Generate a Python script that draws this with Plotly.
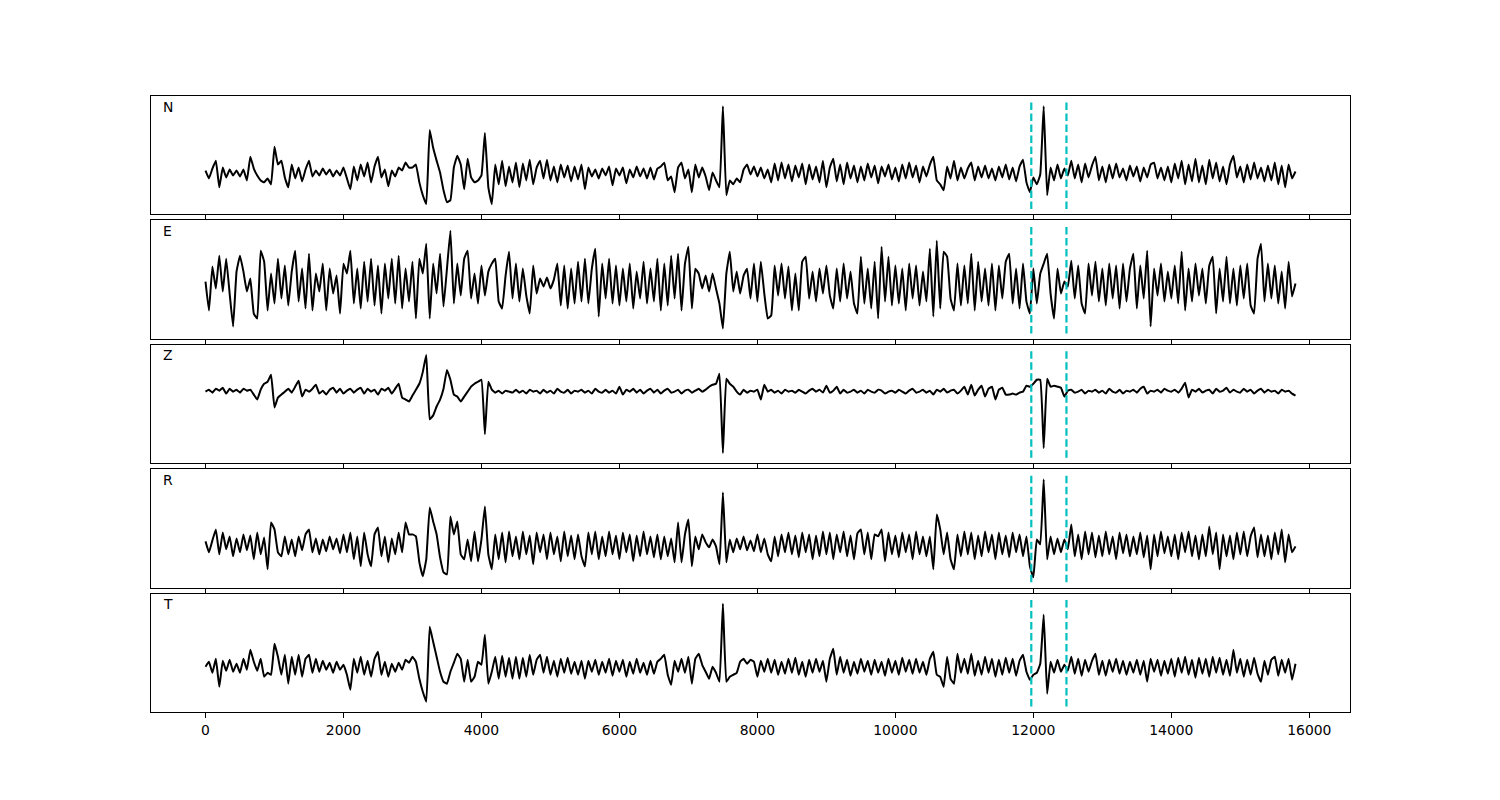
import numpy as np
import plotly.graph_objects as go
from plotly.subplots import make_subplots

# sample interval (x units) of the traces
dt = 50
channels = ["N", "E", "Z", "R", "T"]
picks = [11970, 12480]
tick_vals = [0, 2000, 4000, 6000, 8000, 10000, 12000, 14000, 16000]
tick_text = ["0", "2000", "4000", "6000", "8000", "10000", "12000", "14000", "16000"]

N = [2, -6, 4, 12, -15, 5, -5, 3, -3, 2,
     -4, 3, -8, 16, 4, -3, -8, -10, -6, -12,
     26, 8, 12, -5, -15, 8, -6, 5, -9, 3,
     12, -4, 2, -3, 4, -2, 3, -4, 2, -3,
     5, -6, -17, 6, -8, 8, -4, 10, -10, 6,
     16, -5, 3, -14, 2, -4, 5, 2, 10, 5,
     5, 8, -10, -23, -32, 43, 25, 12, 0, -18,
     -30, -28, 5, 17, 8, -17, 14, -5, -10, -8,
     -3, 40, -15, -32, 8, -12, 12, -14, 6, -10,
     10, -15, 9, -8, 13, -12, 5, 12, -6, 13,
     -8, 6, -10, 8, -5, 7, -9, 6, -7, 8,
     -17, 5, -4, 3, -6, 4, -3, 6, -13, 4,
     -3, 5, -11, 3, -5, 6, -4, 4, -6, 5,
     -7, 4, 6, 10, -8, -4, -20, 5, 10, -6,
     3, -20, 8, -5, 5, -4, -18, 0, -8, -15,
     67, -23, -8, -12, -6, -10, 3, 8, -2, 6,
     -4, 5, -6, 3, -10, 9, -8, 10, -6, 8,
     -9, 7, -5, 9, -12, 8, -7, 6, -10, 12,
     -15, 5, 14, -9, 8, -12, 10, -6, 7, -10,
     6, -8, 9, -5, 7, -11, 6, -4, 8, -7,
     5, -9, 8, -6, 10, -5, 7, -10, 6, -4,
     8, 16, -8, -12, -18, 6, -6, 12, -8, 5,
     -6, 4, 10, -8, 6, -5, 7, -6, 4, -8,
     6, -5, 8, -7, 5, -9, 6, 13, -10, -20,
     -5, -12, -2, 67, -23, 5, -8, 8, -6, 4,
     -3, 12, -6, 8, -10, 9, -5, 7, 16, -8,
     6, -10, 8, -6, 9, -5, 4, -8, 7, -4,
     6, -9, 5, -5, 8, 10, -6, 5, -8, 6,
     -10, 9, -6, 12, -12, 8, -9, 14, -10, 7,
     -12, 13, -6, 10, -9, 6, -12, 8, 17, -5,
     6, -10, 8, -7, 10, -6, 5, -9, 7, -8,
     10, -12, 7, -15, 8, -6, 1]

E = [2, -27, 17, -5, 28, -8, 25, -10, -43, 12,
     28, 12, -8, 5, -30, -35, 33, 22, -27, 10,
     -20, 25, -15, 18, -22, 12, 33, -18, 15, -25,
     30, -27, 10, -8, 20, -27, 15, -10, 8, -30,
     20, 10, 33, -20, 15, -25, 22, -18, 25, -22,
     18, -30, 20, -15, 25, -20, 28, -25, 15, -18,
     22, -35, 25, 10, 40, -35, 20, -10, 30, -23,
     15, 53, -20, 20, -12, 25, 33, -15, 10, -20,
     18, -12, 12, 20, 25, -18, -25, 8, 32, -15,
     20, -18, 15, -12, -30, 18, -10, 5, -3, 6,
     -5, 4, 20, -22, 18, -25, 15, -20, 22, -18,
     25, -20, 15, 35, -33, 20, -15, 25, -20, 18,
     -22, 15, -18, 20, -25, 12, -15, 22, -20, 15,
     -18, 25, -27, 20, -22, 28, -15, 30, -27, 20,
     37, -25, 15, 10, -5, 8, -8, 10, -5, -20,
     -45, 10, 32, -8, 12, -10, 8, 15, -15, 20,
     -18, 22, -10, -35, -32, 18, -12, 20, -15, 17,
     -27, 10, -27, 22, 27, -15, 12, -18, 15, -10,
     18, -12, -25, 15, -18, 20, -15, 12, -20, -30,
     27, -20, 15, -25, 22, -35, 37, -18, 27, -22,
     18, -20, 15, -27, 20, -15, 18, -22, 12, -18,
     35, -33, 43, -25, 32, 27, -15, -27, 20, -22,
     18, -20, 30, -27, 22, -18, 15, -22, 20, -27,
     18, -15, 22, 30, -20, 15, -25, 20, -18, -30,
     15, -20, 10, 20, 30, -10, -35, 15, -10, 2,
     -3, 23, -15, 18, -20, -30, 20, -12, 22, -18,
     15, -22, 20, -15, 18, -25, 20, -18, 15, 30,
     -25, 18, -15, 33, -43, 15, -12, 20, -18, 12,
     -15, 18, -20, 32, -27, 15, -18, 20, -12, 15,
     -20, 18, 27, -30, 15, -18, 27, -20, 15, -22,
     18, -15, 20, -22, -30, 25, 40, -18, 20, -15,
     18, -20, 12, -25, 22, -13, 0]

Z = [0, 2, -1, 3, 1, 4, -2, 3, 0, 2,
     -1, 3, 1, 2, -3, -8, 2, 8, 10, 17,
     -16, -6, -3, 0, 3, -1, 5, 11, -5, 2,
     0, 3, 7, -2, 1, -3, 2, 4, -1, 3,
     -2, 1, 3, -1, 2, 4, -2, 3, 0, 2,
     -3, 3, 1, 4, -2, 3, 8, -6, -8, -10,
     -4, 2, 8, 20, 37, -28, -24, -15, -8, 3,
     22, 12, -3, -5, -10, -5, 0, 5, 8, 10,
     12, -43, 10, 2, -1, 1, -2, 1, 0, -1,
     2, -1, 1, -2, 2, 0, 1, -2, 2, -1,
     1, -2, 3, 0, -1, 2, -2, 1, 0, 2,
     -1, 1, -2, 3, 0, -1, 2, -1, 1, -2,
     5, -3, 2, 0, 3, -1, 2, -2, 1, 3,
     -1, 2, -2, 1, 3, -1, 0, 2, -2, 1,
     2, -1, 1, 3, 0, 2, 5, 7, 8, 18,
     -62, 13, 8, 5, 0, -3, 2, -1, 1, 0,
     2, -8, 7, 0, 2, -1, 1, -2, 2, 0,
     1, -1, 2, 0, -2, 1, 3, 0, 2, -1,
     6, -1, 1, 5, -2, 2, -1, 0, 2, -1,
     1, -2, 2, 0, -1, 2, 1, -2, 0, 1,
     -1, 2, 0, -2, 1, 3, -1, 0, 2, -1,
     1, -3, 2, 0, 3, -1, 1, 2, -2, 1,
     5, -3, 7, -4, 2, 6, -5, 3, 5, -8,
     2, 4, -3, -3, -2, -3, -1, 0, 6, 5,
     8, 12, 12, -57, 13, 5, 6, 5, 4, -5,
     1, 2, -1, 0, 2, -2, 1, 0, 2, -1,
     1, -2, 3, 0, -1, 2, -2, 1, 0, 2,
     -1, 3, 5, -2, 1, 0, 2, -1, 3, 1,
     0, 2, -1, 3, 9, -6, 2, 0, 3, -1,
     1, 2, -2, 3, 0, 1, 4, -1, 2, 0,
     -1, 3, 0, 2, -2, 1, 3, -1, 2, 0,
     1, -2, 2, 0, 1, -2, -4]

R = [3, -8, 4, 15, -10, 12, -5, 8, -12, 6,
     -8, 10, -6, 9, -15, 12, -10, 7, -25, 22,
     15, -8, -12, 8, -10, 5, -12, 8, -6, 10,
     15, -8, 6, -10, 5, -7, 8, -5, 6, -9,
     10, -8, 12, -15, 8, -22, 12, -10, -22, 10,
     17, -12, 8, -18, 6, -10, 12, -8, 22, 10,
     10, 8, -18, -32, -15, 37, 23, 10, -13, -28,
     -30, 28, 10, 23, -10, -15, 5, -17, 13, -17,
     5, 38, -10, -25, 10, -15, 12, -18, 13, -12,
     8, -15, 13, -10, 9, -20, 12, -8, 10, -15,
     12, -10, 8, -17, 13, -12, 9, -15, 10, -12,
     -22, 12, -10, 13, -15, 8, -12, 13, -10, 9,
     -15, 12, -8, 10, -17, 9, -12, 13, -10, 8,
     -13, 10, -15, 8, -12, 6, -18, 22, -18, 10,
     25, -22, 8, -5, 10, 2, -3, 5, -2, -20,
     52, -18, 5, -8, 6, -5, 8, -6, 4, -7,
     10, -8, 6, -10, -17, 8, -12, 10, -8, 12,
     -10, 9, -13, 12, -8, 10, -15, 9, -12, 13,
     -10, 12, -15, 10, -8, 13, -12, 9, -15, 11,
     15, -10, 12, -15, 10, 8, 15, -17, 12, -10,
     9, -13, 12, -8, 10, -15, 13, -10, 8, -12,
     8, -25, 30, 15, -10, 12, -15, -25, 10, -12,
     13, -10, 12, -15, 9, -12, 13, -8, 10, -15,
     12, -10, 9, -13, 12, -8, 10, -12, 8, -22,
     -33, 5, 0, 65, -15, 8, -10, 6, -8, 5,
     -5, 20, -12, 10, -15, 13, -10, 12, -13, 9,
     -12, 13, -10, 8, -15, 12, -9, 10, -12, 8,
     -10, 12, -13, 9, -25, 10, -12, 13, -9, 8,
     -12, 10, -15, 12, -8, 13, -12, 9, -15, 10,
     -12, 18, -10, 12, -25, 10, -12, 9, -15, 12,
     -10, 13, -12, 8, 17, -13, 10, -12, 9, -15,
     12, -10, 15, -18, 10, -8, -2]

T = [0, 5, -6, 8, -20, 6, -4, 7, -5, 3,
     -6, 8, -3, 17, 5, -4, 8, -10, -6, -8,
     23, 10, -8, 12, -17, 10, -8, 12, -10, 8,
     12, -6, 8, -5, 6, -3, 4, -6, 5, -3,
     2, -8, -23, 8, -6, 10, -8, 6, -10, 8,
     15, -8, 5, -10, 3, -5, 4, -3, 7, 4,
     10, 5, -12, -25, -35, 40, 25, 10, -5, -15,
     -17, -5, 4, 13, 8, -15, 7, -15, -10, 5,
     2, 32, -17, -5, 10, -12, 11, -10, 9, -12,
     10, -12, 9, -10, 12, -8, 7, 12, -6, 10,
     -8, 6, -10, 8, -6, 9, -7, 5, -8, 6,
     -12, 6, -5, 7, -8, 5, -6, 8, -9, 6,
     -5, 7, -10, 5, -7, 8, -6, 4, -8, 6,
     -7, 5, 8, 12, -8, -18, 6, -5, 8, -6,
     10, -17, 8, 13, 2, -5, -12, 0, -6, -15,
     63, -15, -10, -8, -6, 5, 8, 3, 7, 5,
     -10, 6, -5, 8, -6, 7, -8, 5, -7, 8,
     -6, 9, -8, 5, -10, 7, -6, 8, -5, 6,
     -15, 8, 18, -8, 10, -6, 7, -9, 5, -7,
     8, -5, 6, -8, 7, -6, 5, -9, 8, -6,
     6, -8, 9, -5, 7, -7, 8, -6, 5, -8,
     8, 15, -8, -10, -20, 10, -12, -17, 13, -6,
     8, -7, 13, -9, 6, -8, 10, -6, 8, -10,
     7, -8, 9, -6, 8, -9, 6, 12, -5, -13,
     -8, -6, 3, 52, -27, 5, -6, 7, -5, 2,
     -4, 10, -7, 8, -9, 7, -5, 6, 13, -8,
     6, -9, 7, -5, 8, -7, 6, -8, 5, -6,
     7, -8, 6, -15, 8, -5, 7, -9, 6, -7,
     8, -10, 9, -6, 10, -8, 7, -11, 9, -7,
     8, -10, 10, -6, 9, -8, 7, -9, 17, -6,
     8, -10, 7, -8, 9, -7, -15, 6, -8, 7,
     10, -9, 7, -6, 8, -13, 3]

series = [N, E, Z, R, T]

FONT = "DejaVu Sans"
fig = make_subplots(rows=5, cols=1, shared_xaxes=True, vertical_spacing=6 / 616)

xmax = 0.0
for k, (name, vals) in enumerate(zip(channels, series), start=1):
    y = np.asarray(vals, dtype=float)
    x = np.arange(len(y)) * dt
    xmax = max(xmax, x[-1])
    fig.add_trace(go.Scatter(x=x, y=y, mode="lines",
                             line=dict(color="black", width=2, shape="spline", smoothing=0.3),
                             showlegend=False, hoverinfo="skip"), row=k, col=1)
    lo, hi = y.min(), y.max()
    span = hi - lo
    llo, lhi = lo - 0.05 * span, hi + 0.05 * span
    lspan = lhi - llo
    for p in picks:
        fig.add_trace(go.Scatter(x=[p, p], y=[llo, lhi], mode="lines",
                                 line=dict(color="#00bfbf", width=2.2, dash="7.5px,3.5px"),
                                 showlegend=False, hoverinfo="skip"), row=k, col=1)
    fig.update_yaxes(range=[llo - 0.05 * lspan, lhi + 0.05 * lspan], row=k, col=1)
    xr = "x domain" if k == 1 else f"x{k} domain"
    yr = "y domain" if k == 1 else f"y{k} domain"
    fig.add_annotation(text=name, xref=xr, yref=yr, x=0.008, y=0.995,
                       xanchor="left", yanchor="top", showarrow=False,
                       font=dict(family=FONT, size=13.9, color="black"))

fig.update_xaxes(range=[-0.05 * xmax, 1.05 * xmax], tickvals=tick_vals, ticktext=tick_text,
                 ticks="outside", ticklen=5, tickwidth=1, tickcolor="black",
                 showline=True, mirror=True, linecolor="black", linewidth=1,
                 showgrid=False, zeroline=False,
                 tickfont=dict(family=FONT, size=13.9, color="black"))
fig.update_yaxes(showticklabels=False, ticks="", showgrid=False, zeroline=False,
                 showline=True, mirror=True, linecolor="black", linewidth=1)

fig.update_layout(width=1500, height=800, paper_bgcolor="white", plot_bgcolor="white",
                  margin=dict(l=143, r=158, t=88, b=96), showlegend=False,
                  font=dict(family=FONT, color="black"))

fig.write_html("out.html")
